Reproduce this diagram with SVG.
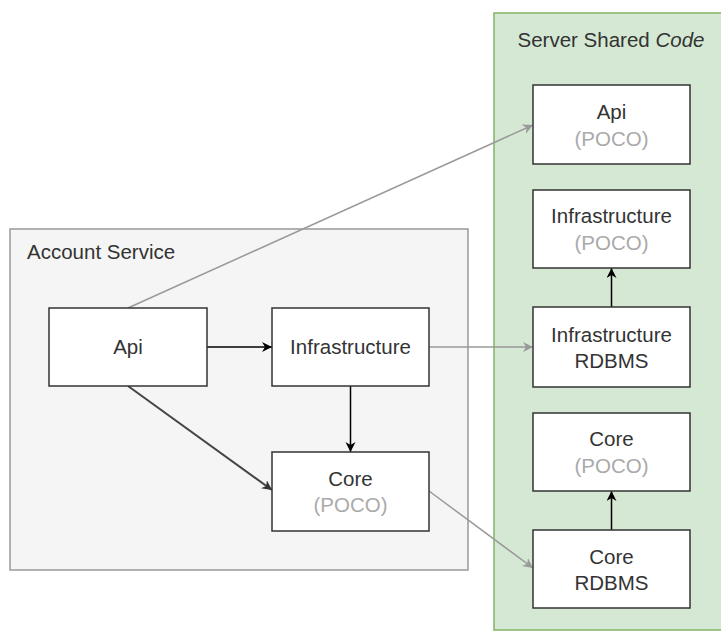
<svg xmlns="http://www.w3.org/2000/svg" width="721" height="631" viewBox="0 0 721 631">
  <defs>
    <marker id="arrow-dark" markerUnits="userSpaceOnUse" markerWidth="12" markerHeight="12" refX="10" refY="5" orient="auto">
      <path d="M0,0 L10,5 L0,10 L3,5 Z" fill="#000"/>
    </marker>
    <marker id="arrow-grey" markerUnits="userSpaceOnUse" markerWidth="12" markerHeight="12" refX="10" refY="5" orient="auto">
      <path d="M0,0 L10,5 L0,10 L3,5 Z" fill="#999"/>
    </marker>
    <marker id="arrow-mid" markerUnits="userSpaceOnUse" markerWidth="12" markerHeight="12" refX="10" refY="5" orient="auto">
      <path d="M0,0 L10,5 L0,10 L3,5 Z" fill="#333"/>
    </marker>
  </defs>
  <style>
    text { font-family: "Liberation Sans", Arial, Helvetica, sans-serif; font-size: 20.5px; fill: #333; }
    .c { text-anchor: middle; }
    .poco { fill: #aaa; }
    .node { fill: #fff; stroke: #333; stroke-width: 1.5; }
    .dep { stroke: #000; stroke-width: 1.5; fill: none; marker-end: url(#arrow-dark); }
    .shared { stroke: #999; stroke-width: 1.5; fill: none; marker-end: url(#arrow-grey); }
    .direct { stroke: #444; stroke-width: 2; fill: none; marker-end: url(#arrow-mid); }
  </style>

  <rect width="721" height="631" fill="#fff"/>

  <!-- Server Shared Code container -->
  <g id="server-shared-code">
    <rect x="494" y="13" width="240" height="617" fill="#d5e8d4" stroke="#82b366" stroke-width="1.5"/>
    <text x="611" y="47" class="c">Server Shared <tspan font-style="italic">Code</tspan></text>
  </g>

  <!-- Account Service container -->
  <g id="account-service">
    <rect x="10" y="229" width="458" height="341" fill="#f5f5f5" stroke="#999" stroke-width="1.5"/>
    <text x="27" y="259">Account Service</text>
  </g>

  <!-- Connectors -->
  <g id="connectors">
    <line class="dep" x1="207" y1="347" x2="272" y2="347"/>
    <line class="dep" x1="350.5" y1="386" x2="350.5" y2="452"/>
    <line class="direct" x1="128" y1="386" x2="272" y2="490"/>
    <line class="shared" x1="128" y1="308" x2="533" y2="125"/>
    <line class="shared" x1="429" y1="347" x2="533" y2="347"/>
    <line class="shared" x1="429" y1="491" x2="533" y2="568"/>
    <line class="dep" x1="611.5" y1="307" x2="611.5" y2="268"/>
    <line class="dep" x1="611.5" y1="530" x2="611.5" y2="491"/>
  </g>

  <!-- Account Service nodes -->
  <g id="acc-api">
    <rect class="node" x="49" y="308" width="158" height="78"/>
    <text x="128" y="354" class="c">Api</text>
  </g>
  <g id="acc-infrastructure">
    <rect class="node" x="272" y="308" width="157" height="78"/>
    <text x="350.5" y="354" class="c">Infrastructure</text>
  </g>
  <g id="acc-core">
    <rect class="node" x="272" y="452" width="157" height="79"/>
    <text x="350.5" y="485.5" class="c">Core</text>
    <text x="350.5" y="512" class="c poco">(POCO)</text>
  </g>

  <!-- Shared nodes -->
  <g id="shared-api-poco">
    <rect class="node" x="533" y="85" width="157" height="79"/>
    <text x="611.5" y="119" class="c">Api</text>
    <text x="611.5" y="146" class="c poco">(POCO)</text>
  </g>
  <g id="shared-infrastructure-poco">
    <rect class="node" x="533" y="190" width="157" height="78"/>
    <text x="611.5" y="223" class="c">Infrastructure</text>
    <text x="611.5" y="250" class="c poco">(POCO)</text>
  </g>
  <g id="shared-infrastructure-rdbms">
    <rect class="node" x="533" y="307" width="157" height="80"/>
    <text x="611.5" y="342" class="c">Infrastructure</text>
    <text x="611.5" y="368" class="c">RDBMS</text>
  </g>
  <g id="shared-core-poco">
    <rect class="node" x="533" y="413" width="157" height="78"/>
    <text x="611.5" y="446" class="c">Core</text>
    <text x="611.5" y="473" class="c poco">(POCO)</text>
  </g>
  <g id="shared-core-rdbms">
    <rect class="node" x="533" y="530" width="157" height="78"/>
    <text x="611.5" y="564" class="c">Core</text>
    <text x="611.5" y="590" class="c">RDBMS</text>
  </g>
</svg>
